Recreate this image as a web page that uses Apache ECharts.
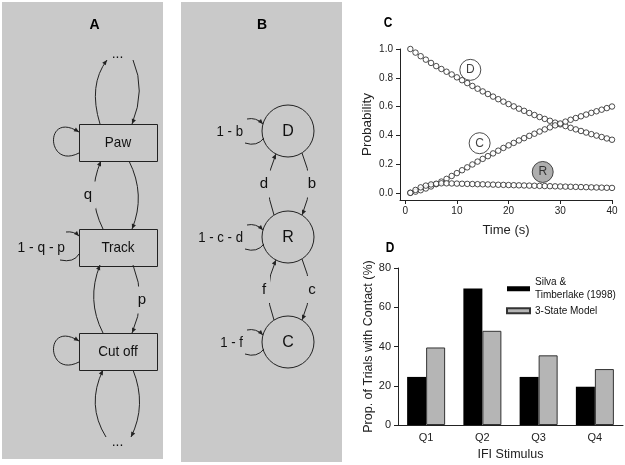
<!DOCTYPE html>
<html><head><meta charset="utf-8">
<script src="https://cdn.jsdelivr.net/npm/echarts@6/dist/echarts.min.js"></script>
<style>html,body{margin:0;padding:0;background:#fff}#chart{width:625px;height:465px}</style>
</head><body><div id="chart"></div>
<script>
// ---------- Panel C data ----------
const timeSec = [1,2,3,4,5,6,7,8,9,10,11,12,13,14,15,16,17,18,19,20,21,22,23,24,25,26,27,28,29,30,31,32,33,34,35,36,37,38,39,40];
const probD = [1.000,0.975,0.950,0.926,0.903,0.881,0.861,0.842,0.823,0.803,
               0.783,0.763,0.743,0.724,0.705,0.687,0.669,0.651,0.634,0.617,
               0.601,0.585,0.570,0.555,0.541,0.527,0.514,0.501,0.488,0.476,
               0.464,0.452,0.441,0.430,0.419,0.408,0.398,0.388,0.378,0.369];
const probC = [0.000,0.008,0.018,0.030,0.044,0.060,0.078,0.097,0.117,0.137,
               0.157,0.177,0.197,0.217,0.236,0.255,0.274,0.293,0.312,0.330,
               0.347,0.364,0.380,0.396,0.411,0.426,0.441,0.455,0.469,0.482,
               0.495,0.508,0.520,0.532,0.544,0.556,0.567,0.578,0.589,0.600];
const probR = [0.000,0.020,0.038,0.050,0.058,0.063,0.066,0.066,0.065,0.064,
               0.063,0.062,0.061,0.060,0.059,0.058,0.057,0.056,0.055,0.054,
               0.053,0.052,0.051,0.050,0.049,0.048,0.047,0.046,0.045,0.044,
               0.043,0.042,0.041,0.040,0.039,0.038,0.037,0.036,0.035,0.034];
const annotLabels = ['D', 'C', 'R'];
const annotTime = [12.6, 14.4, 26.6];
const annotProb = [0.855, 0.345, 0.145];
const cTicksX = [0, 10, 20, 30, 40];
const cTicksY = [0, 0.2, 0.4, 0.6, 0.8, 1.0];

// ---------- Panel D data ----------
const quarters = ['Q1', 'Q2', 'Q3', 'Q4'];
const silvaTimberlake = [24.5, 69.5, 24.5, 19.5];
const threeStateModel = [39.5, 48, 35.5, 28.5];
const seriesNames = ['Silva & Timberlake (1998)', '3-State Model'];

// ---------- Diagram text ----------
const stateNamesA = ['Paw', 'Track', 'Cut off'];
const loopLabelA = '1 - q - p';
const stateNamesB = ['D', 'R', 'C'];
const loopLabelsB = ['1 - b', '1 - c - d', '1 - f'];

const FONT = '"Liberation Sans", Arial, sans-serif';
const ink = '#222';
const panelGrey = '#c9c9c9';
const G = [];

function head(fx, fy, tx, ty) {
  const a = Math.atan2(ty - fy, tx - fx), L = 5, W = 2.2;
  const bx = tx - L * Math.cos(a), by = ty - L * Math.sin(a);
  const px = -Math.sin(a) * W, py = Math.cos(a) * W;
  return {type: 'polygon', silent: true, shape: {points: [[tx, ty], [bx + px, by + py], [bx - px, by - py]]}, style: {fill: ink}};
}
function quad(x1, y1, cx, cy, x2, y2, arrow) {
  G.push({type: 'bezierCurve', silent: true, shape: {x1, y1, x2, y2, cpx1: cx, cpy1: cy}, style: {stroke: ink, lineWidth: 1, fill: 'none'}});
  if (arrow) G.push(head(cx, cy, x2, y2));
}
function cubic(x1, y1, c1x, c1y, c2x, c2y, x2, y2, arrow) {
  G.push({type: 'bezierCurve', silent: true, shape: {x1, y1, x2, y2, cpx1: c1x, cpy1: c1y, cpx2: c2x, cpy2: c2y}, style: {stroke: ink, lineWidth: 1, fill: 'none'}});
  if (arrow) G.push(head(c2x, c2y, x2, y2));
}
function txt(x, y, text, o) {
  o = o || {};
  G.push({type: 'text', silent: true, x, y, scaleX: o.sx || 1, z: 5,
    style: {text, font: (o.bold ? 'bold ' : '') + (o.size || 15) + 'px ' + FONT, fill: o.color || '#111',
      align: o.align || 'center', verticalAlign: 'middle',
      backgroundColor: o.bg || null, padding: o.pad || 0}});
}

// panel backgrounds
G.push({type: 'rect', silent: true, z: -10, shape: {x: 2, y: 2, width: 161, height: 457}, style: {fill: panelGrey}});
G.push({type: 'rect', silent: true, z: -10, shape: {x: 181, y: 2, width: 161, height: 460}, style: {fill: panelGrey}});

// panel letters
txt(94.5, 25, 'A', {bold: true, size: 14, color: '#000'});
txt(262, 25, 'B', {bold: true, size: 14, color: '#000'});
txt(388, 23, 'C', {bold: true, size: 14, color: '#000', sx: 0.85});
txt(390, 248, 'D', {bold: true, size: 14, color: '#000', sx: 0.85});

// ----- Panel A -----
const boxTops = [124, 229, 333];
boxTops.forEach((t, i) => {
  G.push({type: 'rect', silent: true, shape: {x: 79.5, y: t + 0.5, width: 78, height: 37}, style: {fill: 'none', stroke: ink, lineWidth: 1}});
  txt(118, t + 18.5, stateNamesA[i], {sx: 0.9});
});
// self loops
[boxTops[0], boxTops[2]].forEach(t => cubic(79, t + 29, 46, t + 46, 44, t - 14, 79, t + 8, true));
quad(66, boxTops[1] + 3, 74, boxTops[1] + 2, 79, boxTops[1] + 7, true);
quad(60, boxTops[1] + 31, 74, boxTops[1] + 34, 79, boxTops[1] + 25, false);
txt(65, 248, loopLabelA, {align: 'right', sx: 0.92});
// arcs
quad(100, 124, 88, 85, 107, 60, true);
quad(133, 60, 146, 90, 132, 124, true);
quad(129, 161, 146, 195, 132, 229, true);
quad(103, 229, 86, 195, 101, 161, true);
quad(133, 265, 147, 300, 132, 333, true);
quad(103, 333, 86, 300, 100, 265, true);
quad(106, 437, 86, 405, 103, 370, true);
quad(133, 370, 147, 405, 131, 437, true);
txt(88, 195, 'q', {bg: panelGrey, pad: [6, 4]});
txt(142, 300, 'p', {bg: panelGrey, pad: [6, 4]});
txt(117.5, 54, '...', {size: 14});
txt(117.5, 442, '...', {size: 14});

// ----- Panel B -----
const cyB = [131, 237, 342];
cyB.forEach((cy, i) => {
  G.push({type: 'circle', silent: true, shape: {cx: 288, cy, r: 26}, style: {fill: 'none', stroke: ink, lineWidth: 1}});
  txt(288, cy + 1, stateNamesB[i], {size: 16});
  quad(247, cy - 12, 256, cy - 14, 263, cy - 7, true);
  quad(245, cy + 12, 257, cy + 16, 264, cy + 7, false);
  txt(243, cy + 1, loopLabelsB[i], {align: 'right', sx: 0.88});
});
const pairLabels = [['d', 'b'], ['f', 'c']];
for (let k = 0; k < 2; k++) {
  const u = cyB[k], l = cyB[k + 1], m = (u + l) / 2;
  quad(274, l - 22, 262, m, 276, u + 23, true);
  quad(302, u + 22, 316, m, 302, l - 22, true);
  txt(264, m, pairLabels[k][0], {bg: panelGrey, pad: [6, 4]});
  txt(312, m, pairLabels[k][1], {bg: panelGrey, pad: [6, 4]});
}

const axisText = {color: '#222', fontFamily: FONT};
const chart = echarts.init(document.getElementById('chart'));
const openMarker = {color: '#fff', borderColor: '#222', borderWidth: 1};
chart.setOption({
  animation: false,
  backgroundColor: '#fff',
  textStyle: {fontFamily: FONT},
  graphic: {elements: G},
  grid: [
    {left: 400, top: 49, width: 212, height: 151, outerBoundsMode: 'none', containLabel: false},
    {left: 398, top: 268, width: 225, height: 157, outerBoundsMode: 'none', containLabel: false}
  ],
  legend: {
    orient: 'vertical', left: 506, top: 270, padding: 0, itemGap: -3,
    itemWidth: 23, itemHeight: 5, icon: 'rect',
    textStyle: {fontSize: 10, color: '#111', fontFamily: FONT, lineHeight: 12.5},
    data: [{name: seriesNames[0], textStyle: {padding: [12.5, 0, 0, 0]}}, {name: seriesNames[1]}],
    formatter: n => n === seriesNames[0] ? 'Silva &\nTimberlake (1998)' : n
  },
  xAxis: [
    {gridIndex: 0, type: 'value', min: -1, max: 40,
     axisLine: {onZero: false, lineStyle: {color: '#222'}},
     axisTick: {show: true, length: 4, customValues: cTicksX, lineStyle: {color: '#222'}},
     axisLabel: {customValues: cTicksX, fontSize: 10, margin: 6, ...axisText},
     splitLine: {show: false},
     name: 'Time (s)', nameLocation: 'middle', nameGap: 24,
     nameTextStyle: {fontSize: 13, ...axisText}},
    {gridIndex: 1, type: 'category', data: quarters,
     axisLine: {onZero: false, lineStyle: {color: '#222'}},
     axisTick: {show: false},
     axisLabel: {fontSize: 11, margin: 7, ...axisText},
     name: 'IFI Stimulus', nameLocation: 'middle', nameGap: 23,
     nameTextStyle: {fontSize: 12.5, ...axisText}}
  ],
  yAxis: [
    {gridIndex: 0, type: 'value', min: -0.05, max: 1.0,
     axisLine: {show: true, onZero: false, lineStyle: {color: '#222'}},
     axisTick: {show: true, length: 4, customValues: cTicksY, lineStyle: {color: '#222'}},
     axisLabel: {customValues: cTicksY, fontSize: 10, margin: 7, formatter: v => v.toFixed(1), ...axisText},
     splitLine: {show: false},
     name: 'Probability', nameLocation: 'middle', nameGap: 26, nameRotate: 90,
     nameTextStyle: {fontSize: 13.5, ...axisText}},
    {gridIndex: 1, type: 'value', min: 0, max: 80, interval: 20,
     axisLine: {show: true, onZero: false, lineStyle: {color: '#222'}},
     axisTick: {show: true, length: 4, lineStyle: {color: '#222'}},
     axisLabel: {fontSize: 11, margin: 7, ...axisText},
     splitLine: {show: false},
     name: 'Prop. of Trials with Contact (%)', nameLocation: 'middle', nameGap: 23, nameRotate: 90,
     nameTextStyle: {fontSize: 12.5, ...axisText}}
  ],
  series: [
    {name: 'D', type: 'scatter', xAxisIndex: 0, yAxisIndex: 0, symbol: 'circle', symbolSize: 5.5,
     itemStyle: openMarker, data: timeSec.map((t, i) => [t, probD[i]])},
    {name: 'C', type: 'scatter', xAxisIndex: 0, yAxisIndex: 0, symbol: 'circle', symbolSize: 5.5,
     itemStyle: openMarker, data: timeSec.map((t, i) => [t, probC[i]])},
    {name: 'R', type: 'scatter', xAxisIndex: 0, yAxisIndex: 0, symbol: 'circle', symbolSize: 5.5,
     itemStyle: openMarker, data: timeSec.map((t, i) => [t, probR[i]])},
    {name: 'labels', type: 'scatter', xAxisIndex: 0, yAxisIndex: 0, symbol: 'circle', symbolSize: 21, z: 5,
     data: annotLabels.map((s, i) => ({value: [annotTime[i], annotProb[i]], name: s,
       itemStyle: {color: s === 'R' ? '#9a9a9a' : '#fff', borderColor: '#222', borderWidth: 1}})),
     label: {show: true, position: 'inside', formatter: p => p.name, fontSize: 12, color: '#111', fontFamily: FONT}},
    {name: seriesNames[0], type: 'bar', xAxisIndex: 1, yAxisIndex: 1, barWidth: 19, barGap: '0%',
     itemStyle: {color: '#000'}, data: silvaTimberlake},
    {name: seriesNames[1], type: 'bar', xAxisIndex: 1, yAxisIndex: 1, barWidth: 19, barGap: '0%',
     itemStyle: {color: '#b5b5b5', borderColor: '#333', borderWidth: 1}, data: threeStateModel}
  ]
});
</script></body></html>
